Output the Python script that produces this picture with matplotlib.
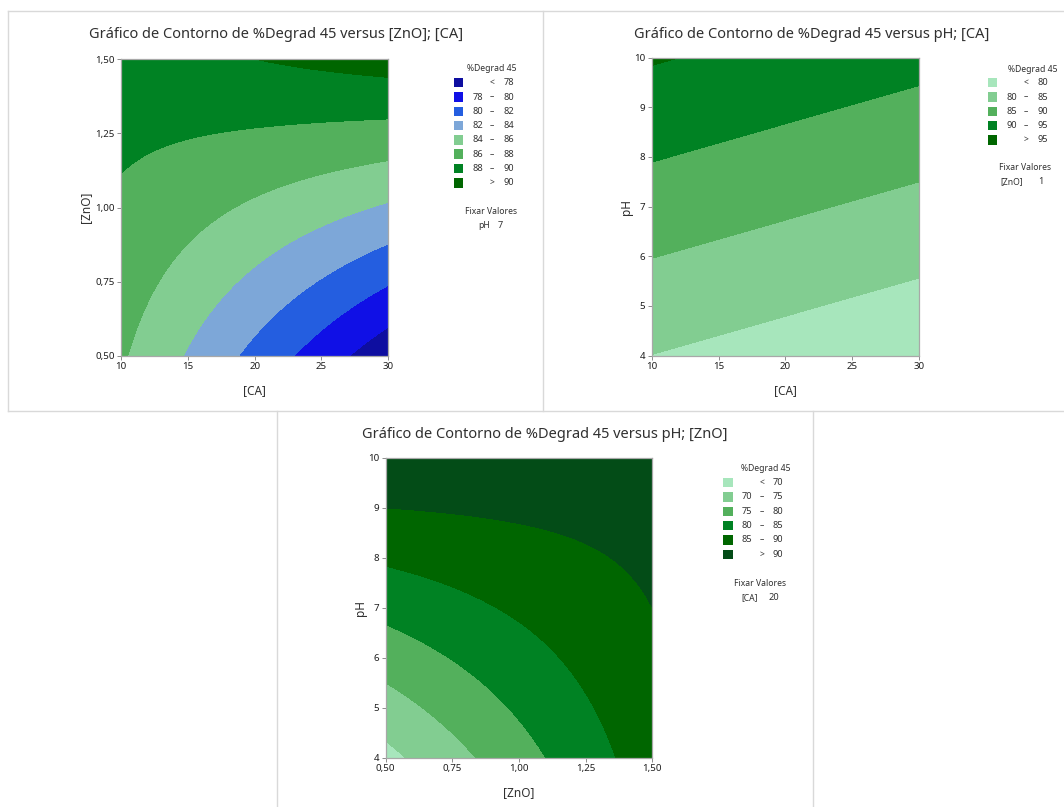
import numpy as np
import matplotlib
matplotlib.use("Agg")
import matplotlib.pyplot as plt
import matplotlib.tri as mtri
from matplotlib.patches import Rectangle
from matplotlib.lines import Line2D

# tamanho da figura em pixels
W, H = 1064, 807

plt.rcParams['font.family'] = ['Noto Sans', 'DejaVu Sans']

# ---------------- dados ----------------
# painel 1: %Degrad 45 versus [ZnO]; [CA]  (pH fixo = 7)
ca_grid = [10, 15, 20, 25, 30]
zno_grid = [0.5, 0.75, 1.0, 1.25, 1.5]
deg_zno_ca = [
    [86.24, 83.83, 81.42, 79.01, 76.60],
    [86.96, 85.26, 83.56, 81.87, 80.17],
    [87.67, 86.69, 85.70, 84.72, 83.74],
    [88.39, 88.11, 87.84, 87.57, 87.30],
    [89.10, 89.54, 89.99, 90.43, 90.87],
]
levels_1 = [78, 80, 82, 84, 86, 88, 90]
colors_1 = ['#0E0EA0', '#1010E6', '#245EE0', '#7DA7D8', '#82CD91', '#53B05C', '#008223', '#006600']

# painel 2: %Degrad 45 versus pH; [CA]  ([ZnO] fixo = 1)
ca_grid_2 = [10, 20, 30]
ph_grid_2 = [4, 6, 8, 10]
deg_ph_ca = [
    [79.95, 77.96, 75.97],
    [85.11, 83.12, 81.13],
    [90.27, 88.28, 86.29],
    [95.40, 93.42, 91.45],
]
levels_2 = [80, 85, 90, 95]
colors_2 = ['#A7E6BC', '#82CD91', '#53B05C', '#008223', '#006600']

# painel 3: %Degrad 45 versus pH; [ZnO]  ([CA] fixo = 20)
zno_grid_3 = [0.5, 0.75, 1.0, 1.25, 1.5]
ph_grid_3 = [4, 5, 6, 7, 8, 9, 10]
deg_ph_zno = [
    [68.60, 73.35, 78.10, 82.85, 87.60],
    [72.88, 76.76, 80.64, 84.52, 88.40],
    [77.17, 80.18, 83.18, 86.19, 89.20],
    [81.45, 83.59, 85.73, 87.86, 90.00],
    [85.73, 87.00, 88.27, 89.53, 90.80],
    [90.02, 90.41, 90.81, 91.20, 91.60],
    [94.30, 93.83, 93.35, 92.88, 92.40],
]
levels_3 = [70, 75, 80, 85, 90]
colors_3 = ['#A7E6BC', '#82CD91', '#53B05C', '#008223', '#006600', '#034C17']

# ticks
ca_ticks = [10, 15, 20, 25, 30]
ca_tick_labels = ['10', '15', '20', '25', '30']
zno_ticks = [0.5, 0.75, 1.0, 1.25, 1.5]
zno_tick_labels = ['0,50', '0,75', '1,00', '1,25', '1,50']
ph_ticks = [4, 5, 6, 7, 8, 9, 10]
ph_tick_labels = ['4', '5', '6', '7', '8', '9', '10']

titles = [
    'Gráfico de Contorno de %Degrad 45 versus [ZnO]; [CA]',
    'Gráfico de Contorno de %Degrad 45 versus pH; [CA]',
    'Gráfico de Contorno de %Degrad 45 versus pH; [ZnO]',
]
legend_title = '%Degrad 45'
fixed_1 = ('pH', '7')
fixed_2 = ('[ZnO]', '1')
fixed_3 = ('[CA]', '20')

TXT = '#303030'
BORDER = '#D9D9D9'


def fx(px):
    return px / W


def fy(py):
    return 1 - py / H


def grid_triangulation(xs, ys):
    # dois triângulos por célula da grade
    X, Y = np.meshgrid(xs, ys)
    nx, ny = len(xs), len(ys)
    tris = []
    for j in range(ny - 1):
        for i in range(nx - 1):
            a = j * nx + i
            b = a + 1
            c = a + nx
            d = c + 1
            tris.append([a, b, d])
            tris.append([a, d, c])
    return mtri.Triangulation(X.ravel(), Y.ravel(), np.array(tris))


def draw_contour(ax, xs, ys, zz, levels, colors):
    tri = grid_triangulation(xs, ys)
    z = np.asarray(zz, dtype=float).ravel()
    interp = mtri.CubicTriInterpolator(tri, z, kind='min_E')
    refiner = mtri.UniformTriRefiner(tri)
    tri_f, z_f = refiner.refine_field(z, triinterpolator=interp, subdiv=5)
    bounds = [z.min() - 10] + list(levels) + [z.max() + 10]
    ax.tricontourf(tri_f, z_f, levels=bounds, colors=colors, antialiased=False)


def style_axes(ax, xlim, ylim, xt, xtl, yt, ytl):
    ax.set_xlim(*xlim)
    ax.set_ylim(*ylim)
    ax.set_xticks(xt)
    ax.set_xticklabels(xtl)
    ax.set_yticks(yt)
    ax.set_yticklabels(ytl)
    for s in ax.spines.values():
        s.set_color('#A8A8A8')
        s.set_linewidth(0.9)
    ax.tick_params(direction='out', length=3, width=0.7, color='#8C8C8C',
                   labelsize=7, labelcolor='#1E1E1E', pad=1.5)


def add_axes_px(fig, left, top, right, bottom):
    return fig.add_axes([fx(left), fy(bottom), (right - left) / W, (bottom - top) / H])


def draw_legend(fig, levels, colors, fixed, sq_x, title_x, title_y, row0, num_l, sign_x, num_r,
                fix_x, fix_y, fix_name_x, fix_val_x):
    fs = 6.2
    fig.text(fx(title_x), fy(title_y), legend_title, ha='center', va='center', fontsize=fs, color=TXT)
    step = 14.3
    n = len(colors)
    for i in range(n):
        yc = row0 + i * step
        fig.patches.append(Rectangle((fx(sq_x), fy(yc + 4.7)), 9.3 / W, 9.4 / H,
                                     transform=fig.transFigure, facecolor=colors[i],
                                     edgecolor='none', figure=fig))
        if i == 0:
            fig.text(fx(sign_x), fy(yc), '<', ha='center', va='center', fontsize=fs, color=TXT)
            fig.text(fx(num_r), fy(yc), str(levels[0]), ha='right', va='center', fontsize=fs + 0.4, color=TXT)
        elif i == n - 1:
            fig.text(fx(sign_x), fy(yc), '>', ha='center', va='center', fontsize=fs, color=TXT)
            fig.text(fx(num_r), fy(yc), str(levels[-1]), ha='right', va='center', fontsize=fs + 0.4, color=TXT)
        else:
            fig.text(fx(num_l), fy(yc), str(levels[i - 1]), ha='right', va='center', fontsize=fs + 0.4, color=TXT)
            fig.text(fx(sign_x), fy(yc), '–', ha='center', va='center', fontsize=fs, color=TXT)
            fig.text(fx(num_r), fy(yc), str(levels[i]), ha='right', va='center', fontsize=fs + 0.4, color=TXT)
    fig.text(fx(fix_x), fy(fix_y), 'Fixar Valores', ha='center', va='center', fontsize=fs, color=TXT)
    fig.text(fx(fix_name_x), fy(fix_y + 14), fixed[0], ha='center', va='center', fontsize=fs, color=TXT)
    fig.text(fx(fix_val_x), fy(fix_y + 14), fixed[1], ha='center', va='center', fontsize=fs + 0.4, color=TXT)


def px_line(fig, x0, y0, x1, y1):
    fig.lines.append(Line2D([fx(x0), fx(x1)], [fy(y0), fy(y1)], transform=fig.transFigure,
                            color=BORDER, linewidth=1.0, figure=fig))


fig = plt.figure(figsize=(W / 100, H / 100), dpi=100)
fig.patch.set_facecolor('white')

# molduras dos painéis
px_line(fig, 8, 11, 1064, 11)
px_line(fig, 8, 11, 8, 410.7)
px_line(fig, 543.3, 11, 543.3, 410.7)
px_line(fig, 8, 410.7, 1064, 410.7)
px_line(fig, 277.3, 410.7, 277.3, 807)
px_line(fig, 812.5, 410.7, 812.5, 807)

# ---- painel 1 ----
ax1 = add_axes_px(fig, 121, 59.3, 388.3, 356)
draw_contour(ax1, ca_grid, zno_grid, deg_zno_ca, levels_1, colors_1)
style_axes(ax1, (10, 30), (0.5, 1.5), ca_ticks, ca_tick_labels, zno_ticks, zno_tick_labels)
fig.text(fx(275.6), fy(34.5), titles[0], ha='center', va='center', fontsize=10.5, color=TXT)
fig.text(fx(254.6), fy(390.7), '[CA]', ha='center', va='center', fontsize=8.5, color=TXT)
fig.text(fx(85.5), fy(207.6), '[ZnO]', ha='center', va='center', fontsize=8.5, color=TXT, rotation=90)
draw_legend(fig, levels_1, colors_1, fixed_1, sq_x=454, title_x=491.5, title_y=68.5, row0=82.7,
            num_l=483, sign_x=492, num_r=514.5, fix_x=491, fix_y=211, fix_name_x=484, fix_val_x=500)

# ---- painel 2 ----
ax2 = add_axes_px(fig, 651.7, 57.7, 919, 355.5)
draw_contour(ax2, ca_grid_2, ph_grid_2, deg_ph_ca, levels_2, colors_2)
style_axes(ax2, (10, 30), (4, 10), ca_ticks, ca_tick_labels, ph_ticks, ph_tick_labels)
fig.text(fx(812), fy(34.5), titles[1], ha='center', va='center', fontsize=10.5, color=TXT)
fig.text(fx(785.3), fy(390.7), '[CA]', ha='center', va='center', fontsize=8.5, color=TXT)
fig.text(fx(626), fy(206.6), 'pH', ha='center', va='center', fontsize=8.5, color=TXT, rotation=90)
draw_legend(fig, levels_2, colors_2, fixed_2, sq_x=988, title_x=1033, title_y=69, row0=82.7,
            num_l=1016.7, sign_x=1026, num_r=1048.3, fix_x=1025.3, fix_y=168, fix_name_x=1011.7, fix_val_x=1040.7)

# ---- painel 3 ----
ax3 = add_axes_px(fig, 385.7, 457.7, 652.3, 757.5)
draw_contour(ax3, zno_grid_3, ph_grid_3, deg_ph_zno, levels_3, colors_3)
style_axes(ax3, (0.5, 1.5), (4, 10), zno_ticks, zno_tick_labels, ph_ticks, ph_tick_labels)
fig.text(fx(544.7), fy(434.5), titles[2], ha='center', va='center', fontsize=10.5, color=TXT)
fig.text(fx(519), fy(792.7), '[ZnO]', ha='center', va='center', fontsize=8.5, color=TXT)
fig.text(fx(360.5), fy(607.6), 'pH', ha='center', va='center', fontsize=8.5, color=TXT, rotation=90)
draw_legend(fig, levels_3, colors_3, fixed_3, sq_x=723.3, title_x=765.8, title_y=468.5, row0=482.7,
            num_l=752.3, sign_x=761.7, num_r=783.3, fix_x=759.7, fix_y=583.3, fix_name_x=749.7, fix_val_x=773.7)

fig.savefig('out.png', dpi=100)
